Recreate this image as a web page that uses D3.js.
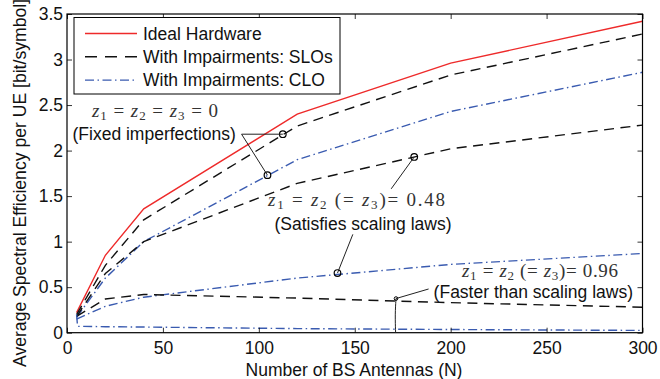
<!DOCTYPE html>
<html>
<head>
<meta charset="utf-8">
<script src="https://cdn.jsdelivr.net/npm/d3@7"></script>
<style>
  body { margin: 0; background: #fff; }
  svg { font-family: "Liberation Sans", Arial, sans-serif; }
</style>
</head>
<body>
<svg id="chart" width="660" height="379"></svg>
<script>
// antennas N
const antennas = [5, 20, 40, 120, 200, 300];
const antennasLow = [5, 5.5, 20, 40, 120, 200, 300];

// spectral efficiency values [bit/symbol]
const ideal = [0.22, 0.85, 1.36, 2.40, 2.96, 3.42];
const slo0 = [0.2, 0.74, 1.24, 2.27, 2.83, 3.28];
const clo0 = [0.17, 0.6, 1.0, 1.9, 2.43, 2.86];
const slo48 = [0.18, 0.65, 1.0, 1.64, 2.02, 2.28];
const clo48 = [0.15, 0.29, 0.39, 0.6, 0.75, 0.87];
const slo96 = [0.18, 0.37, 0.42, 0.38, 0.33, 0.28];
const clo96 = [0.2, 0.07, 0.066, 0.062, 0.045, 0.035, 0.025];

const xTicks = [0, 50, 100, 150, 200, 250, 300];
const yTicks = [0, 0.5, 1, 1.5, 2, 2.5, 3, 3.5];

const legendLabels = ["Ideal Hardware", "With Impairments: SLOs", "With Impairments: CLO"];

const red = "#ee2a2a", blue = "#3a5bb0", black = "#111";
const dashed = "10,6.5", dashDot = "9,3.5,1.5,3.5";

const svg = d3.select("#chart");
const margin = { top: 14, left: 67 };
const width = 575.5, height = 318.7;

const x = d3.scaleLinear().domain([0, 300]).range([margin.left, margin.left + width]);
const y = d3.scaleLinear().domain([0, 3.5]).range([margin.top + height, margin.top]);

// series
const series = [
  { n: antennas, v: ideal, color: red, dash: null },
  { n: antennas, v: slo0, color: black, dash: dashed },
  { n: antennas, v: clo0, color: blue, dash: dashDot },
  { n: antennas, v: slo48, color: black, dash: dashed },
  { n: antennas, v: clo48, color: blue, dash: dashDot },
  { n: antennas, v: slo96, color: black, dash: dashed },
  { n: antennasLow, v: clo96, color: blue, dash: dashDot }
];

const line = d3.line().x(d => x(d[0])).y(d => y(d[1]));

series.forEach(s => {
  svg.append("path")
    .datum(s.n.map((n, i) => [n, s.v[i]]))
    .attr("d", line)
    .attr("fill", "none")
    .attr("stroke", s.color)
    .attr("stroke-width", 1.4)
    .attr("stroke-dasharray", s.dash);
});

// axes, matlab style ticks inside on all sides
const tickLen = 5;
svg.append("g")
  .attr("transform", "translate(0," + (margin.top + height) + ")")
  .call(d3.axisBottom(x).tickValues(xTicks).tickSize(-tickLen).tickPadding(9))
  .call(g => g.select(".domain").remove());
svg.append("g")
  .attr("transform", "translate(0," + margin.top + ")")
  .call(d3.axisTop(x).tickValues(xTicks).tickSize(-tickLen).tickFormat(""))
  .call(g => g.select(".domain").remove());
svg.append("g")
  .attr("transform", "translate(" + margin.left + ",0)")
  .call(d3.axisLeft(y).tickValues(yTicks).tickSize(-tickLen).tickPadding(4)
    .tickFormat(d => String(d)))
  .call(g => g.select(".domain").remove());
svg.append("g")
  .attr("transform", "translate(" + (margin.left + width) + ",0)")
  .call(d3.axisRight(y).tickValues(yTicks).tickSize(-tickLen).tickFormat(""))
  .call(g => g.select(".domain").remove());

svg.selectAll(".tick line").attr("stroke", "#000").attr("stroke-width", 0.8);
svg.selectAll(".tick text").attr("font-size", 17.5).attr("fill", "#111")
  .attr("font-family", "Liberation Sans, Arial, sans-serif");

svg.append("rect")
  .attr("x", margin.left).attr("y", margin.top)
  .attr("width", width).attr("height", height)
  .attr("fill", "none").attr("stroke", "#000").attr("stroke-width", 1.2);

// axis labels
svg.append("text")
  .attr("x", 354).attr("y", 376)
  .attr("text-anchor", "middle").attr("font-size", 17.5).attr("fill", "#111")
  .text("Number of BS Antennas (N)");
svg.append("text")
  .attr("transform", "translate(26,183) rotate(-90)")
  .attr("text-anchor", "middle").attr("font-size", 17.6).attr("fill", "#111")
  .text("Average Spectral Efficiency per UE [bit/symbol]");

// legend
const leg = svg.append("g");
leg.append("rect")
  .attr("x", 74).attr("y", 17.5).attr("width", 266).attr("height", 76.5)
  .attr("fill", "#fff").attr("stroke", "#000").attr("stroke-width", 1);
const legStyles = [
  { color: red, dash: null },
  { color: black, dash: "12,8" },
  { color: blue, dash: dashDot }
];
legendLabels.forEach((label, i) => {
  const cy = 33.5 + i * 23.3;
  leg.append("line")
    .attr("x1", 85).attr("x2", 137).attr("y1", cy).attr("y2", cy)
    .attr("stroke", legStyles[i].color).attr("stroke-width", 1.4)
    .attr("stroke-dasharray", legStyles[i].dash);
  leg.append("text")
    .attr("x", 143).attr("y", cy + 6.3)
    .attr("font-size", 17.5).attr("fill", "#111")
    .text(label);
});

// annotations: circle markers on curves [N, value]
const markers = [[112.5, 2.18], [104.5, 1.73], [181, 1.93], [141, 0.655]];
svg.selectAll(".marker")
  .data(markers)
  .enter().append("circle")
  .attr("cx", d => x(d[0])).attr("cy", d => y(d[1])).attr("r", 3.3)
  .attr("fill", "none").attr("stroke", "#000").attr("stroke-width", 1.2);

// leader lines [from N, from value, to N, to value]
const leaders = [
  [91, 2.18, 112.5, 2.18],
  [91, 2.18, 104.5, 1.73],
  [169, 1.58, 181, 1.93],
  [149, 1.08, 141, 0.655],
  [188.5, 0.48, 171.5, 0.375]
];
svg.selectAll(".leader")
  .data(leaders)
  .enter().append("line")
  .attr("x1", d => x(d[0])).attr("y1", d => y(d[1]))
  .attr("x2", d => x(d[2])).attr("y2", d => y(d[3]))
  .attr("stroke", "#222").attr("stroke-width", 1);

// small bracket pointing to both z=0.96 curves
svg.append("path")
  .attr("d", d3.line().curve(d3.curveBasis)
    .x(d => x(d[0])).y(d => y(d[1]))([[171.5, 0.375], [171, 0.2], [171.3, 0.0]]))
  .attr("fill", "none").attr("stroke", "#222").attr("stroke-width", 1);
svg.append("circle")
  .attr("cx", x(171.5)).attr("cy", y(0.375)).attr("r", 1.8)
  .attr("fill", "none").attr("stroke", "#000").attr("stroke-width", 1);

// math labels, stretched to the reference width
function mathLabel(px, py, len, parts) {
  const t = svg.append("text").attr("x", px).attr("y", py)
    .attr("font-family", "Liberation Serif, DejaVu Serif, serif")
    .attr("font-size", 19).attr("fill", "#333")
    .attr("textLength", len).attr("lengthAdjust", "spacing");
  parts.forEach(p => {
    const s = t.append("tspan").text(p[0]);
    if (p[1] === "i") s.attr("font-style", "italic");
    if (p[1] === "sub") s.attr("font-size", 13).attr("dy", 3);
    if (p[1] === "up") s.attr("dy", -3);
  });
  return t;
}
const zParts0 = [["z", "i"], ["1", "sub"], [" = ", "up"], ["z", "i"], ["2", "sub"], [" = ", "up"], ["z", "i"], ["3", "sub"], [" = 0", "up"]];
const zParts = v => [["z", "i"], ["1", "sub"], [" = ", "up"], ["z", "i"], ["2", "sub"], [" (= ", "up"], ["z", "i"], ["3", "sub"], [")= " + v, "up"]];

mathLabel(92, 117, 126, zParts0);
mathLabel(268, 206, 177, zParts("0.48"));
mathLabel(462, 277, 156, zParts("0.96"));

const notes = [
  { text: "(Fixed imperfections)", x: 72.5, y: 140, anchor: "start" },
  { text: "(Satisfies scaling laws)", x: 451.5, y: 229.5, anchor: "end" },
  { text: "(Faster than scaling laws)", x: 633, y: 298, anchor: "end" }
];
notes.forEach(n => {
  svg.append("text").attr("x", n.x).attr("y", n.y)
    .attr("text-anchor", n.anchor).attr("font-size", 17.5).attr("fill", "#111")
    .text(n.text);
});
</script>
</body>
</html>
